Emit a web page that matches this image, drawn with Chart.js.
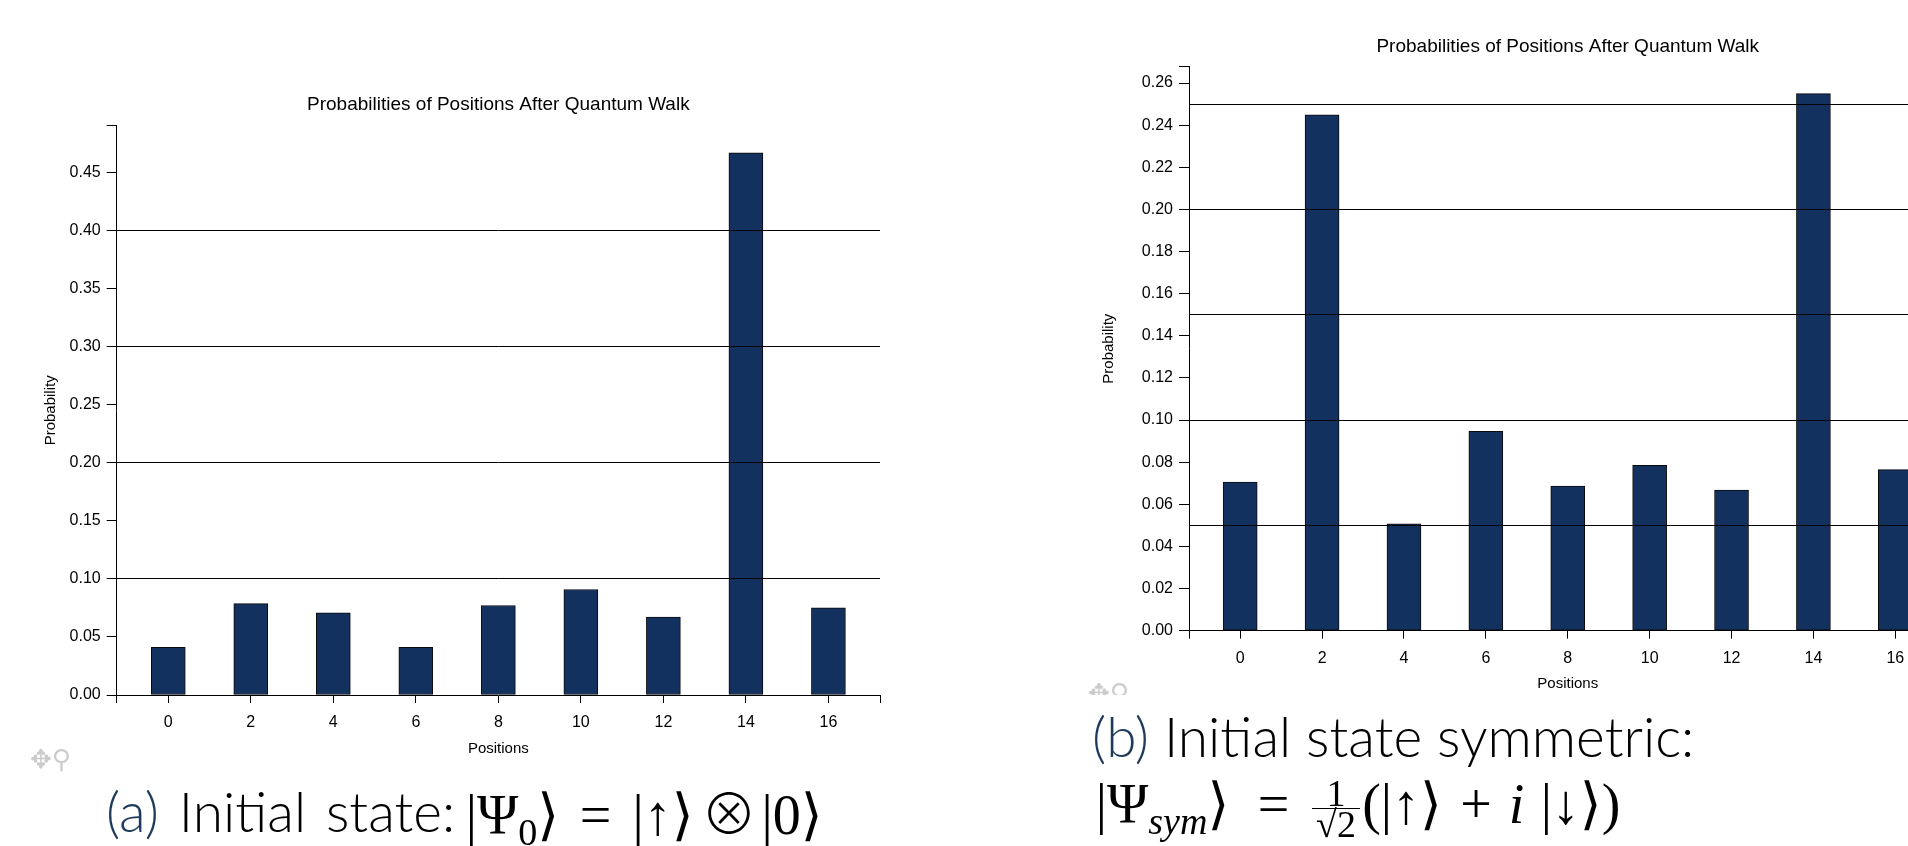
<!DOCTYPE html>
<html>
<head>
<meta charset="utf-8">
<script src="https://cdn.jsdelivr.net/npm/chart.js@4.4.1/dist/chart.umd.min.js"></script>
<style>
    html, body { margin: 0; padding: 0; background: #fff; }
    body { width: 1908px; height: 846px; overflow: hidden; position: relative; }
    canvas { position: absolute; top: 0; }
    #chartA { left: 0; }
    #chartB { left: 1060px; }
    .caption { position: absolute; white-space: nowrap; font-family: Lato, "Open Sans", sans-serif; font-weight: 300; font-size: 55px; line-height: 1; color: #000; }
    .caption .tag { color: #1f3b5c; }
    .math-line { position: absolute; left: 0; height: 60px; width: 1908px; font-family: "Liberation Serif", "DejaVu Serif", serif; font-size: 56px; line-height: 1; color: #000; }
    .tok { position: absolute; top: 0; display: flex; justify-content: center; white-space: nowrap; }
    .tok > span { display: block; white-space: nowrap; }
    .sub { font-size: 0.68em; position: relative; top: 0.28em; }
    .it { font-style: italic; }
    .otimes { font-family: "Noto Sans CJK JP", "DejaVu Sans", sans-serif; font-weight: 300; line-height: 0; }
    .frac { position: absolute; display: flex; flex-direction: column; align-items: center; font-family: "Liberation Serif", serif; font-size: 38px; color: #000; }
    .frac span { display: block; height: 30px; line-height: 30px; }
    .frac .bar { height: 0; width: 100%; border-top: 1.6px solid #000; }
    .icons { position: absolute; color: #ccc; font-family: "DejaVu Sans", sans-serif; font-size: 26px; line-height: 1; overflow: hidden; }
    #capA { left: 106px; top: 784px; word-spacing: 5px; }
    #capB1 { left: 1092px; top: 709px; }
    #mathA { top: 787px; }
    #mathB { top: 776px; }
    #fracB { left: 1312px; top: 778px; width: 48px; }
    #iconsA { left: 30px; top: 746px; height: 30px; }
    #iconsB { left: 1088px; top: 680px; height: 15px; }
</style>
</head>
<body>
<canvas id="chartA" width="900" height="780"></canvas>
<canvas id="chartB" width="900" height="720"></canvas>

<div class="icons" id="iconsA">✥⚲</div>
<div class="icons" id="iconsB">✥⚲</div>

<div class="caption" id="capA"><span class="tag">(a)</span> Initial state:</div>
<div class="math-line" id="mathA">
    <span class="tok" style="left:470px;width:85px"><span>|Ψ<span class="sub">0</span>⟩</span></span>
    <span class="tok" style="left:577px;width:37px"><span>=</span></span>
    <span class="tok" style="left:637px;width:52px"><span>|↑⟩</span></span>
    <span class="tok" style="left:712px;width:34px"><span><span class="otimes">⊗</span></span></span>
    <span class="tok" style="left:766px;width:52px"><span>|0⟩</span></span>
</div>

<div class="caption" id="capB1"><span class="tag">(b)</span> Initial state symmetric:</div>
<div class="math-line" id="mathB">
    <span class="tok" style="left:1097px;width:131px"><span>|Ψ<span class="sub it">sym</span>⟩</span></span>
    <span class="tok" style="left:1257px;width:33px"><span>=</span></span>
    <span class="tok" style="left:1365px;width:74px"><span>(|↑⟩</span></span>
    <span class="tok" style="left:1457px;width:38px"><span>+</span></span>
    <span class="tok" style="left:1508px;width:17px"><span class="it">i</span></span>
    <span class="tok" style="left:1541px;width:79px"><span>|↓⟩)</span></span>
</div>
<div class="frac" id="fracB"><span>1</span><span class="bar"></span><span>√2</span></div>

<script>
// walk positions and measured probabilities
const positions = [0, 2, 4, 6, 8, 10, 12, 14, 16];
const probInitial = [0.041, 0.0787, 0.0707, 0.041, 0.077, 0.0908, 0.067, 0.4666, 0.075];
const probSymmetric = [0.0706, 0.2449, 0.0507, 0.0946, 0.0686, 0.0785, 0.0667, 0.255, 0.0765];

// y tick labels and the horizontal reference lines
const yTicksInitial = [0, 0.05, 0.10, 0.15, 0.20, 0.25, 0.30, 0.35, 0.40, 0.45];
const yTicksSymmetric = [0, 0.02, 0.04, 0.06, 0.08, 0.10, 0.12, 0.14, 0.16, 0.18, 0.20, 0.22, 0.24, 0.26];
const gridInitial = [0.1, 0.2, 0.3, 0.4];
const gridSymmetric = [0.05, 0.10, 0.15, 0.20, 0.25];

const xRange = [-1.25, 17.25];
const chartTitle = 'Probabilities of Positions After Quantum Walk';
const xTitle = 'Positions';
const yTitle = 'Probability';

const barColor = '#13315e';

document.addEventListener('DOMContentLoaded', function() {
    Chart.defaults.font.family = '"Liberation Sans", Arial, Helvetica, sans-serif';
    Chart.defaults.color = '#000';

    createWalkChart('chartA', probInitial, yTicksInitial, gridInitial, {
        yAxisWidth: 116.7, titleTop: 93.6, titleBottom: 9.3, yTitlePad: 41.5,
        padRight: 20, padBottom: 15, xTitlePad: 7
    });
    createWalkChart('chartB', probSymmetric, yTicksSymmetric, gridSymmetric, {
        yAxisWidth: 129, titleTop: 35.3, titleBottom: 8.6, yTitlePad: 39.7,
        padRight: 13.5, padBottom: 19.3, xTitlePad: 7.7
    });
});

function createWalkChart(canvasId, probs, yTicks, gridLevels, box) {
    const ctx = document.getElementById(canvasId);
    const yMax = Math.max(...probs) * 1.05;

    new Chart(ctx, {
        type: 'bar',
        data: {
            datasets: [{
                data: positions.map((p, i) => ({ x: p, y: probs[i] })),
                backgroundColor: barColor,
                borderColor: '#0a0a0a',
                borderWidth: 1,
                borderSkipped: false,
                barThickness: 34
            }]
        },
        options: {
            responsive: false,
            animation: false,
            layout: {
                padding: { left: 0, top: 0, right: box.padRight, bottom: box.padBottom }
            },
            plugins: {
                legend: { display: false },
                tooltip: { enabled: false },
                title: {
                    display: true,
                    text: chartTitle,
                    fullSize: false,
                    font: { size: 19, weight: 'normal' },
                    padding: { top: box.titleTop, bottom: box.titleBottom }
                }
            },
            scales: {
                x: {
                    type: 'linear',
                    min: xRange[0],
                    max: xRange[1],
                    bounds: 'data',
                    offset: false,
                    afterBuildTicks: function(scale) {
                        scale.ticks = [xRange[0], ...positions, xRange[1]].map(v => ({ value: v }));
                    },
                    afterFit: function(scale) { scale.height = 70; },
                    ticks: {
                        autoSkip: false,
                        maxRotation: 0,
                        padding: 10,
                        font: { size: 16 },
                        callback: value => positions.includes(value) ? String(value) : ''
                    },
                    grid: {
                        offset: false,
                        drawOnChartArea: false,
                        tickLength: 8,
                        tickColor: '#000',
                        tickWidth: 1
                    },
                    border: { display: true, color: '#000', width: 1 },
                    title: {
                        display: true,
                        text: xTitle,
                        font: { size: 15 },
                        padding: { top: 0, bottom: box.xTitlePad }
                    }
                },
                y: {
                    min: 0,
                    max: yMax,
                    bounds: 'data',
                    afterBuildTicks: function(scale) {
                        scale.ticks = [...yTicks, yMax].map(v => ({ value: v }));
                    },
                    afterFit: function(scale) { scale.width = box.yAxisWidth; },
                    ticks: {
                        padding: 6,
                        font: { size: 16 },
                        callback: value => value >= yMax - 1e-9 ? '' : value.toFixed(2)
                    },
                    grid: {
                        drawOnChartArea: false,
                        tickLength: 10,
                        tickColor: '#000',
                        tickWidth: 1
                    },
                    border: { display: true, color: '#000', width: 1 },
                    title: {
                        display: true,
                        text: yTitle,
                        font: { size: 15 },
                        padding: { top: box.yTitlePad, bottom: 0 }
                    }
                },
                // reference lines drawn over the bars
                levels: {
                    type: 'linear',
                    axis: 'y',
                    position: 'right',
                    min: 0,
                    max: yMax,
                    bounds: 'data',
                    afterBuildTicks: function(scale) {
                        scale.ticks = gridLevels.map(v => ({ value: v }));
                    },
                    afterFit: function(scale) { scale.width = 0; },
                    ticks: { display: false },
                    grid: { z: 1, color: '#000', lineWidth: 1, drawTicks: false, drawOnChartArea: true },
                    border: { display: false }
                }
            }
        }
    });
}
</script>
</body>
</html>
